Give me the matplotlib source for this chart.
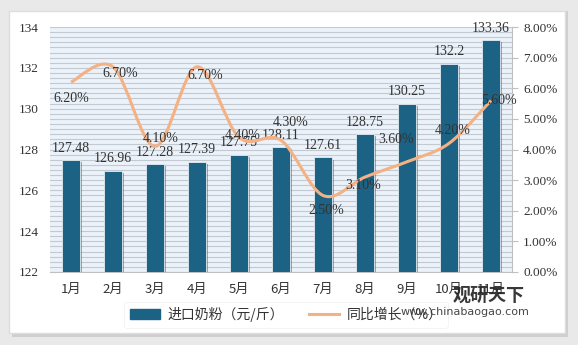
import numpy as np
import matplotlib
matplotlib.use('Agg')
from matplotlib import pyplot as plt
from matplotlib.path import Path
from matplotlib.patches import PathPatch, Rectangle
from matplotlib.lines import Line2D
from matplotlib.ticker import MultipleLocator, FuncFormatter
import matplotlib.patheffects as pe

months = ['1月', '2月', '3月', '4月', '5月', '6月', '7月', '8月', '9月', '10月', '11月']
price = [127.48, 126.96, 127.28, 127.39, 127.75, 128.11, 127.61, 128.75, 130.25, 132.2, 133.36]
price_labels = ['127.48', '126.96', '127.28', '127.39', '127.75', '128.11', '127.61', '128.75', '130.25', '132.2', '133.36']
growth = [6.2, 6.7, 4.1, 6.7, 4.4, 4.3, 2.5, 3.1, 3.6, 4.2, 5.6]
growth_labels = ['6.20%', '6.70%', '4.10%', '6.70%', '4.40%', '4.30%', '2.50%', '3.10%', '3.60%', '4.20%', '5.60%']

# label offsets for the growth labels (points)
g_off = [(0, -12), (5, -5), (4, 6), (6, -6), (3, 1), (7, 13), (2, -11), (-1, -6), (-8, 16), (3, 9), (6, 0)]

bar_color = '#1b6284'
line_color = '#f4b183'
num_font = ['Liberation Serif', 'Noto Sans CJK SC']
cjk_font = ['Noto Sans CJK SC', 'DejaVu Sans']

fig = plt.figure(figsize=(5.78, 3.45), dpi=100)
fig.patch.set_facecolor('#e9e9e9')

# white panel with a soft shadow
shadow = Rectangle((12 / 578, 8 / 345), 556 / 578, 326 / 345, transform=fig.transFigure,
                   facecolor='#cfcfcf', edgecolor='none', zorder=-3)
panel = Rectangle((9 / 578, 12 / 345), 556 / 578, 322 / 345, transform=fig.transFigure,
                  facecolor='white', edgecolor='#dddddd', zorder=-2)
fig.add_artist(shadow)
fig.add_artist(panel)

ax = fig.add_axes([50 / 578, 73 / 345, 462 / 578, 245 / 345])
ax.set_facecolor('#ebf2f9')
x = np.arange(len(months))

bars = ax.bar(x, price, width=0.42, color=bar_color, zorder=3, edgecolor='#e4ecf2', linewidth=0.6)
for b in bars:
    b.set_path_effects([pe.SimplePatchShadow(offset=(1.5, -1.5), alpha=0.35), pe.Normal()])

ax.set_ylim(122, 134)
ax.set_xlim(-0.5, len(months) - 0.5)
ax.yaxis.set_major_locator(MultipleLocator(2))
ax.yaxis.set_minor_locator(MultipleLocator(0.25))
ax.grid(axis='y', which='both', color='#c3c9d1', linewidth=0.8, zorder=1)
ax.set_axisbelow(True)
ax.tick_params(axis='y', which='both', length=0, labelsize=9.5, pad=8, labelcolor='#333333')
ax.tick_params(axis='x', length=0, labelsize=9.5, pad=8, labelcolor='#333333')
ax.set_xticks(x)
ax.set_xticklabels(months, family=cjk_font)
for lab in ax.get_yticklabels():
    lab.set_family(num_font)
for s in ['top', 'left', 'right']:
    ax.spines[s].set_visible(False)
ax.spines['bottom'].set_color('#bfbfbf')

for xi, v, t in zip(x, price, price_labels):
    ax.annotate(t, (xi, v), xytext=(0, 4), textcoords='offset points', ha='center', va='bottom',
                fontsize=10, family=num_font, color='#333333', zorder=6)

ax2 = ax.twinx()
ax2.set_ylim(0, 8)
ax2.yaxis.set_major_locator(MultipleLocator(1))
ax2.yaxis.set_major_formatter(FuncFormatter(lambda v, p: '%.2f%%' % v))
ax2.tick_params(axis='y', length=4, color='#bfbfbf', labelsize=9.5, pad=4, labelcolor='#333333')
for lab in ax2.get_yticklabels():
    lab.set_family(num_font)
for s in ['top', 'left', 'bottom']:
    ax2.spines[s].set_visible(False)
ax2.spines['right'].set_color('#bfbfbf')

# smooth line through the growth points (Catmull-Rom as cubic Bezier segments)
pts = np.column_stack([x, growth]).astype(float)
verts = [pts[0]]
codes = [Path.MOVETO]
n = len(pts)
for i in range(n - 1):
    p0 = pts[i - 1] if i > 0 else pts[i]
    p1 = pts[i]
    p2 = pts[i + 1]
    p3 = pts[i + 2] if i + 2 < n else pts[i + 1]
    verts += [p1 + (p2 - p0) / 6, p2 - (p3 - p1) / 6, p2]
    codes += [Path.CURVE4] * 3
ax2.add_patch(PathPatch(Path(verts, codes), facecolor='none', edgecolor=line_color, lw=2.2, zorder=4))

for xi, v, t, o in zip(x, growth, growth_labels, g_off):
    ax2.annotate(t, (xi, v), xytext=o, textcoords='offset points', ha='center', va='center',
                 fontsize=10, family=num_font, color='#333333', zorder=6)

handles = [plt.Rectangle((0, 0), 1, 1, color=bar_color), Line2D([0], [0], color=line_color, lw=2.2)]
leg = fig.legend(handles, ['进口奶粉（元/斤）', '同比增长（%）'], loc='center', bbox_to_anchor=(0.495, 0.088),
                 ncol=2, frameon=True, prop={'family': cjk_font, 'size': 10},
                 handlelength=2.2, handletextpad=0.5, columnspacing=1.8, borderpad=0.4)
leg.get_frame().set_edgecolor('#f0f0f0')
leg.get_frame().set_linewidth(0.6)
leg.set_zorder(5)
for t in leg.get_texts():
    t.set_color('#333333')

# watermark
fig.text(0.845, 0.145, '观研天下', family=cjk_font, fontsize=13, fontweight='bold', color='#222222',
         ha='center', va='center', alpha=0.9, zorder=10)
fig.text(0.805, 0.095, 'www.chinabaogao.com', family='DejaVu Sans', fontsize=8, color='#333333',
         ha='center', va='center', alpha=0.9, zorder=10)

fig.savefig('out.png', dpi=100, facecolor=fig.get_facecolor())
